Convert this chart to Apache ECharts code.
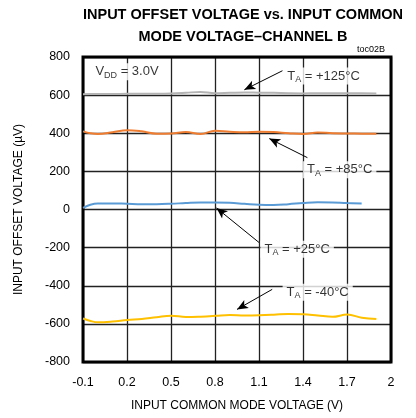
<!DOCTYPE html>
<html><head><meta charset="utf-8">
<script src="https://cdn.jsdelivr.net/npm/echarts@6/dist/echarts.min.js"></script>
<style>html,body{margin:0;padding:0;background:#fff}#c{width:416px;height:418px}</style>
</head><body><div id="c"></div>
<script>
const vcm = [-0.1,-0.05,0,0.1,0.2,0.3,0.4,0.5,0.6,0.7,0.8,0.9,1.0,1.1,1.2,1.3,1.4,1.5,1.6,1.7,1.8,1.9];
const t125 = [605,606,606,606,607,607,607,608,612,617,610,612,614,613,612,610,609,610,610,610,610,609];
const t85  = [410,400,396,405,416,410,398,399,407,396,413,408,405,408,406,400,396,404,400,399,398,397];
const t25  = [8,25,32,32,30,28,28,30,34,37,37,35,30,25,24,28,34,38,37,34,32,null];
const tm40 = [-572,-585,-592,-588,-580,-574,-565,-557,-564,-562,-558,-553,-556,-555,-552,-548,-549,-556,-563,-551,-568,-575];
const seriesNames = ['+125°C','+85°C','+25°C','-40°C'];
const seriesColors = ['#b4b4b4','#ee7d31','#5b9bd5','#ffc000'];
// annotation label positions (data coords) and arrows
const labelX = [1.54, 1.65, 1.36, 1.50];
const labelY = [700, 209, -209, -434];
const arrowFrom = [[1.26,728],[1.43,272],[1.10,-173],[1.19,-419]];
const arrowTo   = [[1.00,628],[1.17,372],[0.81,8],[0.95,-524]];
const vddX = 0.2, vddY = 722;

const chart = echarts.init(document.getElementById('c'));
const font = 'Liberation Sans, Arial, sans-serif';
const toPairs = ys => vcm.map((x,i)=> ys[i]==null ? null : [x, ys[i]]).filter(p=>p);
const allY = [t125,t85,t25,tm40];
const series = allY.map((ys,i)=>({
  type:'line', name:seriesNames[i], data:toPairs(ys), smooth:0.4, showSymbol:false,
  lineStyle:{color:seriesColors[i], width:2}, z:3
}));
const rich = {
  a:{fontSize:13, fontFamily:font, color:'#000', lineHeight:17},
  s:{fontSize:9, fontFamily:font, color:'#000', lineHeight:17, padding:[7,0,0,0]}
};
series.push({
  type:'scatter', symbolSize:0, silent:true, z:5,
  data: labelX.map((x,i)=>({value:[x,labelY[i]], label:{show:true, position:'inside',
     formatter:'{a|T}{s|A}{a| = '+seriesNames[i]+'}', backgroundColor:'#fff', padding:[0,4,0,4], rich}}))
    .concat([{value:[vddX,vddY], label:{show:true, position:'inside',
     formatter:'{a|V}{s|DD}{a| = 3.0V}', backgroundColor:'#fff', padding:[0,4,0,4], rich}}]),
  markLine:{silent:true, symbol:['none','arrow'], symbolSize:[7,11],
    lineStyle:{color:'#000', width:1, type:'solid'}, label:{show:false},
    data: arrowFrom.map((f,i)=>[{coord:f},{coord:arrowTo[i]}])}
});
chart.setOption({
  animation:false,
  title:[{text:'INPUT OFFSET VOLTAGE vs. INPUT COMMON\nMODE VOLTAGE\u2013CHANNEL B', left:238, top:-1, textAlign:'center',
    textStyle:{fontFamily:'Liberation Sans Narrow, Arial Narrow, '+font, fontWeight:'bold', fontSize:14.5, lineHeight:22, color:'#000'}},
    {text:'toc02B', right:26, top:40, textStyle:{fontFamily:font, fontSize:9, fontWeight:'normal', color:'#000'}}],
  grid:{left:83, right:25, top:57, bottom:56, show:true, borderColor:'#000', borderWidth:3, backgroundColor:'transparent', z:1,
    outerBoundsMode:'none', containLabel:false},
  xAxis:{type:'value', min:-0.1, max:2.0, interval:0.3, name:'INPUT COMMON MODE VOLTAGE (V)', nameLocation:'middle', nameGap:38,
    nameTextStyle:{fontFamily:font, fontSize:12, color:'#000'},
    axisLine:{show:false}, axisTick:{show:false},
    axisLabel:{fontFamily:font, fontSize:12.5, color:'#000', margin:14, formatter:v=>String(+v.toFixed(1))},
    splitLine:{show:true, lineStyle:{color:'#222', width:1.3}}},
  yAxis:{type:'value', min:-800, max:800, interval:200, name:'INPUT OFFSET VOLTAGE (\u00b5V)', nameLocation:'middle', nameGap:58,
    nameTextStyle:{fontFamily:font, fontSize:12, color:'#000'},
    axisLine:{show:false}, axisTick:{show:false},
    axisLabel:{fontFamily:font, fontSize:12.5, color:'#000', margin:13},
    splitLine:{show:true, lineStyle:{color:'#222', width:1.3}}},
  series
});
</script></body></html>
